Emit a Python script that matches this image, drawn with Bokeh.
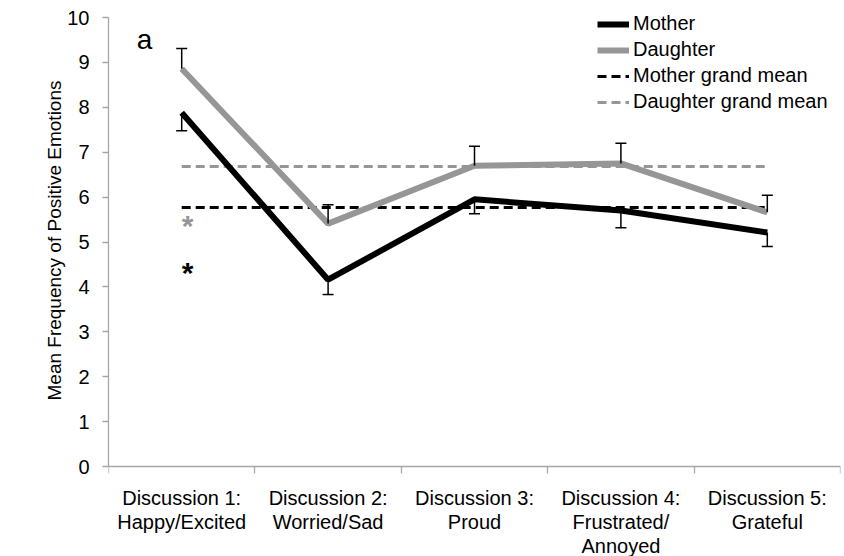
from bokeh.plotting import figure
from bokeh.models import FixedTicker, Legend, LegendItem, Range1d, Title
from bokeh.core.properties import value
from bokeh.embed import file_html
from bokeh.resources import INLINE

categories = ["Discussion 1:\nHappy/Excited", "Discussion 2:\nWorried/Sad", "Discussion 3:\nProud",
              "Discussion 4:\nFrustrated/\nAnnoyed", "Discussion 5:\nGrateful"]
mother = [7.88, 4.16, 5.95, 5.70, 5.21]
mother_lower = [7.48, 3.83, 5.63, 5.32, 4.90]
daughter = [8.86, 5.41, 6.70, 6.75, 5.66]
daughter_upper = [9.31, 5.83, 7.13, 7.20, 6.04]
mother_grand_mean = 5.77
daughter_grand_mean = 6.68
y_ticks = [0, 1, 2, 3, 4, 5, 6, 7, 8, 9, 10]
y_label = "Mean Frequency of Positive Emotions"

FONT = "Liberation Sans"
GREY = "#969696"
AXIS_GREY = "#a6a6a6"

xs = [i + 0.5 for i in range(len(categories))]

H = 556
PX = 44.9  # pixels per unit on y
# frame covers the full canvas height; y=10 sits 17px below the top, y=0 sits 90px above the bottom
p = figure(width=844, height=H, output_backend="svg", toolbar_location=None,
           x_range=Range1d(0, len(categories)),
           y_range=Range1d(-90 / PX, 10 + 17 / PX),
           min_border_left=108, min_border_right=4, min_border_top=0, min_border_bottom=0)
p.outline_line_color = None
p.xgrid.grid_line_color = None
p.ygrid.grid_line_color = None
p.background_fill_color = "white"

# x axis: sits at y=0, labels centred in categories, tick marks at boundaries
xa = p.xaxis[0]
xa.fixed_location = 0
xa.bounds = (0, len(categories))
xa.ticker = FixedTicker(ticks=xs, minor_ticks=list(range(len(categories) + 1)))
xa.major_label_overrides = {x: c for x, c in zip(xs, categories)}
xa.major_tick_out = 0
xa.major_tick_in = 0
xa.minor_tick_out = 7
xa.minor_tick_in = 0
xa.minor_tick_line_color = AXIS_GREY
xa.minor_tick_line_width = 1.3
xa.axis_line_color = AXIS_GREY
xa.axis_line_width = 1.3
xa.major_label_text_font = FONT
xa.major_label_text_font_size = "20px"
xa.major_label_text_color = "black"
xa.major_label_text_line_height = 1.1
xa.major_label_standoff = 13

ya = p.yaxis[0]
ya.bounds = (0, 10)
ya.ticker = FixedTicker(ticks=y_ticks, minor_ticks=[])
ya.major_tick_out = 6
ya.major_tick_in = 0
ya.major_tick_line_color = AXIS_GREY
ya.major_tick_line_width = 1.3
ya.axis_line_color = AXIS_GREY
ya.axis_line_width = 1.3
ya.major_label_text_font = FONT
ya.major_label_text_font_size = "20px"
ya.major_label_text_color = "black"
ya.major_label_standoff = 13

# y axis title, positioned along the 0..10 span of the axis
p.add_layout(Title(text=y_label, align="left", offset=156, standoff=0,
                   text_font=FONT, text_font_size="19px", text_font_style="normal",
                   text_color="black"), "left")

# grand means
r_dgm = p.line([xs[0], xs[-1]], [daughter_grand_mean] * 2, line_color=GREY, line_width=3, line_dash="9 5")
r_mgm = p.line([xs[0], xs[-1]], [mother_grand_mean] * 2, line_color="black", line_width=3, line_dash="9 5")

# series
r_d = p.line(xs, daughter, line_color=GREY, line_width=6)
r_m = p.line(xs, mother, line_color="black", line_width=6)

# error bars
p.segment(x0=xs, y0=daughter, x1=xs, y1=daughter_upper, line_color="black", line_width=1.5)
p.scatter(x=xs, y=daughter_upper, marker="dash", size=11, line_color="black", line_width=1.5)
p.segment(x0=xs, y0=mother, x1=xs, y1=mother_lower, line_color="black", line_width=1.5)
p.scatter(x=xs, y=mother_lower, marker="dash", size=11, line_color="black", line_width=1.5)

# annotations
p.text(x=[0.246], y=[9.51], text=["a"], text_font=value(FONT), text_font_size="28px",
       text_align="center", text_baseline="alphabetic", text_color="black")
p.text(x=[0.54, 0.54], y=[5.43, 4.39], text=["*", "*"], text_font=value(FONT), text_font_size="30px",
       text_align="center", text_baseline="middle", text_color=[GREY, "black"], y_offset=3,
       text_font_style="bold")

legend = Legend(items=[
    LegendItem(label="Mother", renderers=[r_m]),
    LegendItem(label="Daughter", renderers=[r_d]),
    LegendItem(label="Mother grand mean", renderers=[r_mgm]),
    LegendItem(label="Daughter grand mean", renderers=[r_dgm]),
], location=(489, 443), orientation="vertical")
legend.label_text_font = FONT
legend.label_text_font_size = "20px"
legend.label_text_color = "black"
legend.border_line_color = None
legend.background_fill_alpha = 0
legend.padding = 0
legend.margin = 0
legend.spacing = 3
legend.glyph_width = 32
legend.glyph_height = 20
legend.label_height = 20
legend.label_standoff = 4
p.add_layout(legend, "center")

open("out.html", "w").write(file_html(p, INLINE))
